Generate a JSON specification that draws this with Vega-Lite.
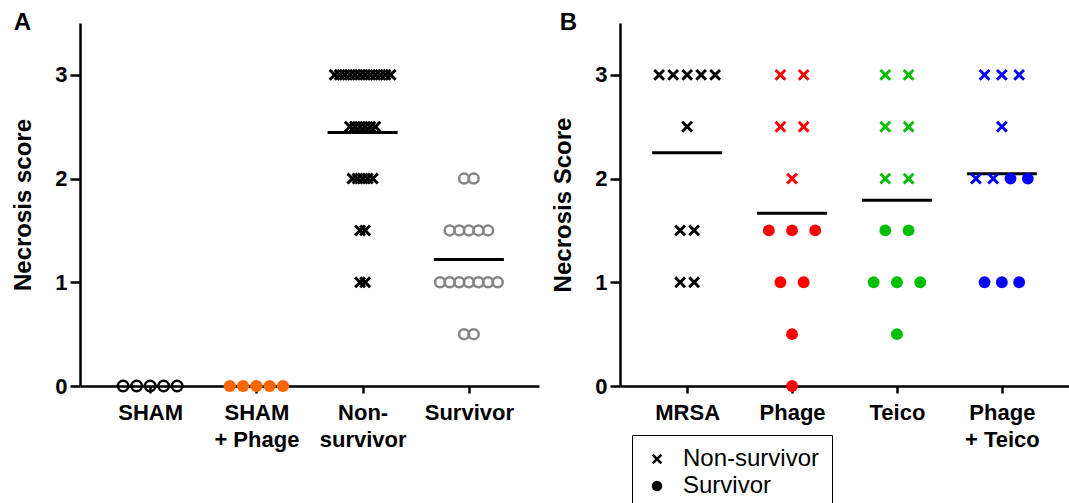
{
  "$schema": "https://vega.github.io/schema/vega-lite/v6.json",
  "padding": {"left": 11, "top": 10, "right": 0, "bottom": 0},
  "spacing": 12,
  "config": {
    "view": {"stroke": null},
    "font": "Liberation Sans",
    "axis": {
      "domainColor": "black", "domainWidth": 2.5, "tickColor": "black", "tickWidth": 2.5,
      "labelColor": "black", "titleColor": "black", "labelFont": "Liberation Sans", "titleFont": "Liberation Sans",
      "labelFontWeight": "bold", "titleFontWeight": "bold", "labelFontSize": 22, "titleFontSize": 24, "grid": false
    },
    "axisX": {"tickSize": 7, "labelPadding": 9, "labelAngle": 0, "labelLineHeight": 27, "title": null},
    "axisY": {"tickSize": 10, "labelPadding": 3, "titlePadding": 19},
    "title": {"font": "Liberation Sans", "fontSize": 24, "fontWeight": "bold", "color": "black", "anchor": "start", "frame": "bounds", "offset": -11.5}
  },
  "datasets": {
    "a": [
      {"group": "SHAM", "score": 0}, {"group": "SHAM", "score": 0}, {"group": "SHAM", "score": 0}, {"group": "SHAM", "score": 0}, {"group": "SHAM", "score": 0},
      {"group": "SHAM + Phage", "score": 0}, {"group": "SHAM + Phage", "score": 0}, {"group": "SHAM + Phage", "score": 0}, {"group": "SHAM + Phage", "score": 0}, {"group": "SHAM + Phage", "score": 0},
      {"group": "Non-survivor", "score": 3}, {"group": "Non-survivor", "score": 3}, {"group": "Non-survivor", "score": 3}, {"group": "Non-survivor", "score": 3},
      {"group": "Non-survivor", "score": 3}, {"group": "Non-survivor", "score": 3}, {"group": "Non-survivor", "score": 3}, {"group": "Non-survivor", "score": 3},
      {"group": "Non-survivor", "score": 3}, {"group": "Non-survivor", "score": 3}, {"group": "Non-survivor", "score": 3}, {"group": "Non-survivor", "score": 3},
      {"group": "Non-survivor", "score": 2.5}, {"group": "Non-survivor", "score": 2.5}, {"group": "Non-survivor", "score": 2.5},
      {"group": "Non-survivor", "score": 2.5}, {"group": "Non-survivor", "score": 2.5}, {"group": "Non-survivor", "score": 2.5},
      {"group": "Non-survivor", "score": 2}, {"group": "Non-survivor", "score": 2}, {"group": "Non-survivor", "score": 2}, {"group": "Non-survivor", "score": 2}, {"group": "Non-survivor", "score": 2},
      {"group": "Non-survivor", "score": 1.5}, {"group": "Non-survivor", "score": 1.5},
      {"group": "Non-survivor", "score": 1}, {"group": "Non-survivor", "score": 1},
      {"group": "Survivor", "score": 2}, {"group": "Survivor", "score": 2},
      {"group": "Survivor", "score": 1.5}, {"group": "Survivor", "score": 1.5}, {"group": "Survivor", "score": 1.5}, {"group": "Survivor", "score": 1.5}, {"group": "Survivor", "score": 1.5},
      {"group": "Survivor", "score": 1}, {"group": "Survivor", "score": 1}, {"group": "Survivor", "score": 1}, {"group": "Survivor", "score": 1},
      {"group": "Survivor", "score": 1}, {"group": "Survivor", "score": 1}, {"group": "Survivor", "score": 1},
      {"group": "Survivor", "score": 0.5}, {"group": "Survivor", "score": 0.5}
    ],
    "b": [
      {"group": "MRSA", "outcome": "Non-survivor", "score": 3}, {"group": "MRSA", "outcome": "Non-survivor", "score": 3}, {"group": "MRSA", "outcome": "Non-survivor", "score": 3},
      {"group": "MRSA", "outcome": "Non-survivor", "score": 3}, {"group": "MRSA", "outcome": "Non-survivor", "score": 3},
      {"group": "MRSA", "outcome": "Non-survivor", "score": 2.5},
      {"group": "MRSA", "outcome": "Non-survivor", "score": 1.5}, {"group": "MRSA", "outcome": "Non-survivor", "score": 1.5},
      {"group": "MRSA", "outcome": "Non-survivor", "score": 1}, {"group": "MRSA", "outcome": "Non-survivor", "score": 1},
      {"group": "Phage", "outcome": "Non-survivor", "score": 3}, {"group": "Phage", "outcome": "Non-survivor", "score": 3},
      {"group": "Phage", "outcome": "Non-survivor", "score": 2.5}, {"group": "Phage", "outcome": "Non-survivor", "score": 2.5},
      {"group": "Phage", "outcome": "Non-survivor", "score": 2},
      {"group": "Phage", "outcome": "Survivor", "score": 1.5}, {"group": "Phage", "outcome": "Survivor", "score": 1.5}, {"group": "Phage", "outcome": "Survivor", "score": 1.5},
      {"group": "Phage", "outcome": "Survivor", "score": 1}, {"group": "Phage", "outcome": "Survivor", "score": 1},
      {"group": "Phage", "outcome": "Survivor", "score": 0.5},
      {"group": "Phage", "outcome": "Survivor", "score": 0},
      {"group": "Teico", "outcome": "Non-survivor", "score": 3}, {"group": "Teico", "outcome": "Non-survivor", "score": 3},
      {"group": "Teico", "outcome": "Non-survivor", "score": 2.5}, {"group": "Teico", "outcome": "Non-survivor", "score": 2.5},
      {"group": "Teico", "outcome": "Non-survivor", "score": 2}, {"group": "Teico", "outcome": "Non-survivor", "score": 2},
      {"group": "Teico", "outcome": "Survivor", "score": 1.5}, {"group": "Teico", "outcome": "Survivor", "score": 1.5},
      {"group": "Teico", "outcome": "Survivor", "score": 1}, {"group": "Teico", "outcome": "Survivor", "score": 1}, {"group": "Teico", "outcome": "Survivor", "score": 1},
      {"group": "Teico", "outcome": "Survivor", "score": 0.5},
      {"group": "Phage + Teico", "outcome": "Non-survivor", "score": 3}, {"group": "Phage + Teico", "outcome": "Non-survivor", "score": 3}, {"group": "Phage + Teico", "outcome": "Non-survivor", "score": 3},
      {"group": "Phage + Teico", "outcome": "Non-survivor", "score": 2.5},
      {"group": "Phage + Teico", "outcome": "Non-survivor", "score": 2}, {"group": "Phage + Teico", "outcome": "Non-survivor", "score": 2},
      {"group": "Phage + Teico", "outcome": "Survivor", "score": 2}, {"group": "Phage + Teico", "outcome": "Survivor", "score": 2},
      {"group": "Phage + Teico", "outcome": "Survivor", "score": 1}, {"group": "Phage + Teico", "outcome": "Survivor", "score": 1}, {"group": "Phage + Teico", "outcome": "Survivor", "score": 1}
    ]
  },
  "resolve": {"scale": {"x": "independent", "y": "independent", "xOffset": "independent", "shape": "independent"}},
  "hconcat": [
    {
      "width": 459, "height": 363,
      "title": {"text": "A", "dx": 2},
      "data": {"name": "a"},
      "encoding": {
        "x": {"field": "group", "type": "nominal", "scale": {"type": "point", "domain": ["SHAM", "SHAM + Phage", "Non-survivor", "Survivor"], "padding": 0.66},
              "axis": {"labelExpr": "datum.value == 'SHAM + Phage' ? ['SHAM', '+ Phage'] : datum.value == 'Non-survivor' ? ['Non-', 'survivor'] : datum.value"}},
        "y": {"field": "score", "type": "quantitative", "title": "Necrosis score", "scale": {"domain": [0, 3.5]}, "axis": {"values": [0, 1, 2, 3]}}
      },
      "resolve": {"scale": {"xOffset": "independent"}},
      "layer": [
        {
          "transform": [{"filter": "datum.group == 'Non-survivor' || datum.group == 'Survivor'"}],
          "mark": {"type": "tick", "color": "black", "size": 70, "thickness": 3},
          "encoding": {"y": {"aggregate": "mean", "field": "score", "type": "quantitative", "title": "Necrosis score"}}
        },
        {
          "transform": [{"filter": "datum.group == 'SHAM'"}, {"window": [{"op": "count", "as": "one"}], "frame": [0, 0]},
                        {"stack": "one", "groupby": ["score"], "offset": "center", "as": ["s0", "s1"]}],
          "mark": {"type": "point", "shape": "circle", "filled": false, "stroke": "black", "strokeWidth": 2.5, "size": 110, "opacity": 1},
          "encoding": {"xOffset": {"field": "s0", "type": "quantitative", "scale": {"domain": [-8, 12], "range": [-135, 135], "nice": false, "zero": false}}}
        },
        {
          "transform": [{"filter": "datum.group == 'SHAM + Phage'"}, {"window": [{"op": "count", "as": "one"}], "frame": [0, 0]},
                        {"stack": "one", "groupby": ["score"], "offset": "center", "as": ["s0", "s1"]}],
          "mark": {"type": "point", "shape": "circle", "filled": true, "color": "#FF6600", "size": 150, "opacity": 1},
          "encoding": {"xOffset": {"field": "s0", "type": "quantitative", "scale": {"domain": [-8, 12], "range": [-133, 133], "nice": false, "zero": false}}}
        },
        {
          "transform": [{"filter": "datum.group == 'Non-survivor'"}, {"window": [{"op": "count", "as": "one"}], "frame": [0, 0]},
                        {"stack": "one", "groupby": ["score"], "offset": "center", "as": ["s0", "s1"]}],
          "mark": {"type": "point", "shape": "M-1,-0.65L-0.65,-1L0,-0.35L0.65,-1L1,-0.65L0.35,0L1,0.65L0.65,1L0,0.35L-0.65,1L-1,0.65L-0.35,0Z", "filled": true, "color": "black", "size": 144, "opacity": 1},
          "encoding": {"xOffset": {"field": "s0", "type": "quantitative", "scale": {"domain": [-4.5, 15.5], "range": [-51, 51], "nice": false, "zero": false}}}
        },
        {
          "transform": [{"filter": "datum.group == 'Survivor'"}, {"window": [{"op": "count", "as": "one"}], "frame": [0, 0]},
                        {"stack": "one", "groupby": ["score"], "offset": "center", "as": ["s0", "s1"]}],
          "mark": {"type": "point", "shape": "circle", "filled": false, "stroke": "#858585", "strokeWidth": 2.5, "size": 100, "opacity": 1},
          "encoding": {"xOffset": {"field": "s0", "type": "quantitative", "scale": {"domain": [-7, 13], "range": [-96, 96], "nice": false, "zero": false}}}
        }
      ]
    },
    {
      "width": 449, "height": 363,
      "title": {"text": "B", "dx": 8},
      "data": {"name": "b"},
      "encoding": {
        "x": {"field": "group", "type": "nominal", "scale": {"type": "point", "domain": ["MRSA", "Phage", "Teico", "Phage + Teico"], "padding": 0.64},
              "axis": {"labelExpr": "datum.value == 'Phage + Teico' ? ['Phage', '+ Teico'] : datum.value"}},
        "y": {"field": "score", "type": "quantitative", "title": "Necrosis Score", "scale": {"domain": [0, 3.5]}, "axis": {"values": [0, 1, 2, 3]}}
      },
      "resolve": {"scale": {"xOffset": "independent"}},
      "layer": [
        {
          "mark": {"type": "tick", "color": "black", "size": 70, "thickness": 3},
          "encoding": {"y": {"aggregate": "mean", "field": "score", "type": "quantitative", "title": "Necrosis Score"}}
        },
        {
          "transform": [{"filter": "datum.group == 'MRSA'"}, {"window": [{"op": "count", "as": "one"}], "frame": [0, 0]},
                        {"stack": "one", "groupby": ["score"], "offset": "center", "sort": [{"field": "outcome", "order": "ascending"}], "as": ["s0", "s1"]}],
          "mark": {"type": "point", "filled": true, "color": "black", "size": 140, "opacity": 1},
          "encoding": {
            "xOffset": {"field": "s0", "type": "quantitative", "scale": {"domain": [-8, 12], "range": [-140, 140], "nice": false, "zero": false}},
            "shape": {"field": "outcome", "type": "nominal", "title": null,
                      "scale": {"domain": ["Non-survivor", "Survivor"], "range": ["M-1,-0.65L-0.65,-1L0,-0.35L0.65,-1L1,-0.65L0.35,0L1,0.65L0.65,1L0,0.35L-0.65,1L-1,0.65L-0.35,0Z", "circle"]},
                      "legend": {"orient": "none", "legendX": 12, "legendY": 412, "padding": 12, "symbolOffset": 1, "labelOffset": 14, "rowPadding": 3,
                                 "labelFontSize": 24, "labelFont": "Liberation Sans", "labelColor": "black", "strokeColor": "black",
                                 "symbolFillColor": "black", "symbolSize": 110, "symbolStrokeWidth": 0}}
          }
        },
        {
          "transform": [{"filter": "datum.group == 'Phage'"}, {"window": [{"op": "count", "as": "one"}], "frame": [0, 0]},
                        {"stack": "one", "groupby": ["score"], "offset": "center", "sort": [{"field": "outcome", "order": "ascending"}], "as": ["s0", "s1"]}],
          "mark": {"type": "point", "filled": true, "color": "#FF0000", "size": 140, "opacity": 1},
          "encoding": {
            "xOffset": {"field": "s0", "type": "quantitative", "scale": {"domain": [-9, 11], "range": [-232, 232], "nice": false, "zero": false}},
            "shape": {"field": "outcome", "type": "nominal", "title": null,
                      "scale": {"domain": ["Non-survivor", "Survivor"], "range": ["M-1,-0.65L-0.65,-1L0,-0.35L0.65,-1L1,-0.65L0.35,0L1,0.65L0.65,1L0,0.35L-0.65,1L-1,0.65L-0.35,0Z", "circle"]}}
          }
        },
        {
          "transform": [{"filter": "datum.group == 'Teico'"}, {"window": [{"op": "count", "as": "one"}], "frame": [0, 0]},
                        {"stack": "one", "groupby": ["score"], "offset": "center", "sort": [{"field": "outcome", "order": "ascending"}], "as": ["s0", "s1"]}],
          "mark": {"type": "point", "filled": true, "color": "#00BF00", "size": 140, "opacity": 1},
          "encoding": {
            "xOffset": {"field": "s0", "type": "quantitative", "scale": {"domain": [-9, 11], "range": [-233, 233], "nice": false, "zero": false}},
            "shape": {"field": "outcome", "type": "nominal", "title": null,
                      "scale": {"domain": ["Non-survivor", "Survivor"], "range": ["M-1,-0.65L-0.65,-1L0,-0.35L0.65,-1L1,-0.65L0.35,0L1,0.65L0.65,1L0,0.35L-0.65,1L-1,0.65L-0.35,0Z", "circle"]}}
          }
        },
        {
          "transform": [{"filter": "datum.group == 'Phage + Teico'"}, {"window": [{"op": "count", "as": "one"}], "frame": [0, 0]},
                        {"stack": "one", "groupby": ["score"], "offset": "center", "sort": [{"field": "outcome", "order": "ascending"}], "as": ["s0", "s1"]}],
          "mark": {"type": "point", "filled": true, "color": "#0000FF", "size": 140, "opacity": 1},
          "encoding": {
            "xOffset": {"field": "s0", "type": "quantitative", "scale": {"domain": [-8.5, 11.5], "range": [-173, 173], "nice": false, "zero": false}},
            "shape": {"field": "outcome", "type": "nominal", "title": null,
                      "scale": {"domain": ["Non-survivor", "Survivor"], "range": ["M-1,-0.65L-0.65,-1L0,-0.35L0.65,-1L1,-0.65L0.35,0L1,0.65L0.65,1L0,0.35L-0.65,1L-1,0.65L-0.35,0Z", "circle"]}}
          }
        }
      ]
    }
  ]
}
